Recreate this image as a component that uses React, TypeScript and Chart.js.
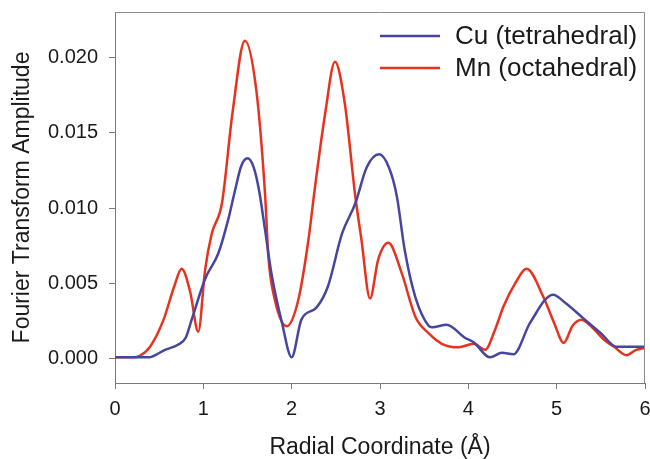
import React, { useEffect, useRef } from "react";
import { Chart, registerables } from "chart.js";

Chart.register(...registerables);

const xTickValues = [0, 1, 2, 3, 4, 5, 6];
const yTickValues = [0, 0.005, 0.01, 0.015, 0.02];
const seriesLabels = ["Cu (tetrahedral)", "Mn (octahedral)"];
const xTitle = "Radial Coordinate (Å)";
const yTitle = "Fourier Transform Amplitude";

const cuX = [0, 0.2, 0.38, 0.566, 0.717, 0.8, 0.868, 1.02, 1.17, 1.28, 1.36, 1.43, 1.5, 1.57, 1.63, 1.7, 1.77, 1.89, 2.0, 2.11, 2.28, 2.41, 2.57, 2.72, 2.85, 2.99, 3.1, 3.19, 3.28, 3.4, 3.55, 3.59, 3.755, 3.96, 4.06, 4.245, 4.38, 4.51, 4.7, 4.96, 5.1, 5.3, 5.5, 5.68, 5.85, 6.0];
const cuY = [0.0001, 0.0001, 0.0001, 0.0006, 0.00095, 0.0014, 0.0026, 0.0053, 0.007, 0.0092, 0.0112, 0.0128, 0.0133, 0.0127, 0.0112, 0.0085, 0.0057, 0.0024, 0.0001, 0.0026, 0.0034, 0.0048, 0.0083, 0.0103, 0.0127, 0.01356, 0.0127, 0.0108, 0.0072, 0.0041, 0.0022, 0.0021, 0.00227, 0.0014, 0.0011, 0.0001, 0.0004, 0.0003, 0.0024, 0.00425, 0.0037, 0.0027, 0.0017, 0.0008, 0.0008, 0.0008];

const mnX = [0, 0.1, 0.2, 0.28, 0.4, 0.55, 0.67, 0.755, 0.85, 0.943, 1.02, 1.095, 1.21, 1.33, 1.47, 1.6, 1.7, 1.736, 1.81, 1.944, 2.075, 2.19, 2.26, 2.38, 2.49, 2.6, 2.72, 2.79, 2.887, 2.98, 3.094, 3.245, 3.4, 3.55, 3.7, 3.89, 4.06, 4.19, 4.3, 4.4, 4.53, 4.66, 4.85, 4.97, 5.08, 5.18, 5.28, 5.4, 5.53, 5.65, 5.79, 5.9, 6.0];
const mnY = [0.0001, 0.0001, 0.0001, 0.0002, 0.00083, 0.0026, 0.0048, 0.00597, 0.00447, 0.0018, 0.0059, 0.0083, 0.0103, 0.0163, 0.0211, 0.0178, 0.0108, 0.0068, 0.0039, 0.00216, 0.0039, 0.0079, 0.0112, 0.0163, 0.0197, 0.017, 0.0108, 0.0079, 0.004, 0.0066, 0.0077, 0.0057, 0.0028, 0.0017, 0.001, 0.00077, 0.001, 0.0006, 0.0019, 0.0035, 0.005, 0.00597, 0.0041, 0.0024, 0.00106, 0.0022, 0.0026, 0.0021, 0.0013, 0.0008, 0.00024, 0.0006, 0.00073];

const seriesColors = ["#4646a0", "#e8321e"];
const FONT = "'Liberation Sans', Arial, sans-serif";

const framePlugin = {
  id: "frame",
  afterDraw(chart: any) {
    const { ctx, chartArea } = chart;
    const { left, top, right, bottom } = chartArea;
    ctx.save();
    ctx.strokeStyle = "#8c8c8c";
    ctx.lineWidth = 1;
    ctx.beginPath();
    ctx.moveTo(left, top + 0.5);
    ctx.lineTo(right - 0.5, top + 0.5);
    ctx.lineTo(right - 0.5, bottom);
    ctx.stroke();
    ctx.restore();
  },
};

const legendPlugin = {
  id: "customLegend",
  afterDraw(chart: any) {
    const { ctx, chartArea } = chart;
    const { right, top } = chartArea;
    ctx.save();
    ctx.font = `26px ${FONT}`;
    ctx.textBaseline = "middle";
    ctx.textAlign = "left";
    chart.data.datasets.forEach((ds: any, i: number) => {
      const y = top + 24 + i * 32;
      ctx.strokeStyle = ds.borderColor;
      ctx.lineWidth = 2.5;
      ctx.beginPath();
      ctx.moveTo(right - 265, y);
      ctx.lineTo(right - 205, y);
      ctx.stroke();
      ctx.fillStyle = "#1a1a1a";
      ctx.fillText(ds.label, right - 190, y + 1);
    });
    ctx.restore();
  },
};

export default function App() {
  const ref = useRef<HTMLCanvasElement | null>(null);

  useEffect(() => {
    document.body.style.margin = "0";
    const canvas = ref.current;
    if (!canvas) return;
    const chart = new Chart(canvas, {
      type: "line",
      data: {
        datasets: [
          {
            label: seriesLabels[0],
            data: cuX.map((x, i) => ({ x, y: cuY[i] })),
            borderColor: seriesColors[0],
            borderWidth: 2.5,
            pointRadius: 0,
            cubicInterpolationMode: "monotone",
            fill: false,
          },
          {
            label: seriesLabels[1],
            data: mnX.map((x, i) => ({ x, y: mnY[i] })),
            borderColor: seriesColors[1],
            borderWidth: 2.5,
            pointRadius: 0,
            cubicInterpolationMode: "monotone",
            fill: false,
          },
        ],
      },
      options: {
        responsive: false,
        animation: false,
        layout: { padding: { top: 12, right: 5, left: 0, bottom: 0 } },
        plugins: {
          legend: { display: false },
          tooltip: { enabled: false },
        },
        scales: {
          x: {
            type: "linear",
            min: 0,
            max: 6,
            afterBuildTicks(scale: any) {
              scale.ticks = xTickValues.map((v) => ({ value: v }));
            },
            afterFit(scale: any) {
              scale.height = 76;
              scale.paddingLeft = 0;
              scale.paddingRight = 0;
            },
            border: { display: true, color: "#7a7a7a", width: 1 },
            grid: { display: true, drawOnChartArea: false, drawTicks: true, tickLength: 6, color: "#7a7a7a" },
            ticks: {
              color: "#1a1a1a",
              font: { family: FONT, size: 20 },
              padding: 8,
              maxRotation: 0,
              callback: (v: any) => String(v),
            },
            title: {
              display: true,
              text: xTitle,
              color: "#1a1a1a",
              font: { family: FONT, size: 23, lineHeight: 1 },
              padding: { top: 0, bottom: 0 },
            },
          },
          y: {
            type: "linear",
            min: -0.0016,
            max: 0.023,
            afterBuildTicks(scale: any) {
              scale.ticks = yTickValues.map((v) => ({ value: v }));
            },
            afterFit(scale: any) {
              scale.width = 115;
              scale.paddingTop = 0;
              scale.paddingBottom = 0;
            },
            border: { display: true, color: "#7a7a7a", width: 1 },
            grid: { display: true, drawOnChartArea: false, drawTicks: true, tickLength: 6, color: "#7a7a7a" },
            ticks: {
              color: "#1a1a1a",
              font: { family: FONT, size: 20 },
              padding: 11,
              callback: (v: any) => Number(v).toFixed(3),
            },
            title: {
              display: true,
              text: yTitle,
              color: "#1a1a1a",
              font: { family: FONT, size: 23, lineHeight: 1 },
              padding: { top: 11, bottom: 0 },
            },
          },
        },
      } as any,
      plugins: [framePlugin, legendPlugin],
    });
    return () => chart.destroy();
  }, []);

  return (
    <div style={{ position: "absolute", left: 0, top: 0, width: 650, height: 459, background: "#fff" }}>
      <canvas ref={ref} width={650} height={459} />
    </div>
  );
}
